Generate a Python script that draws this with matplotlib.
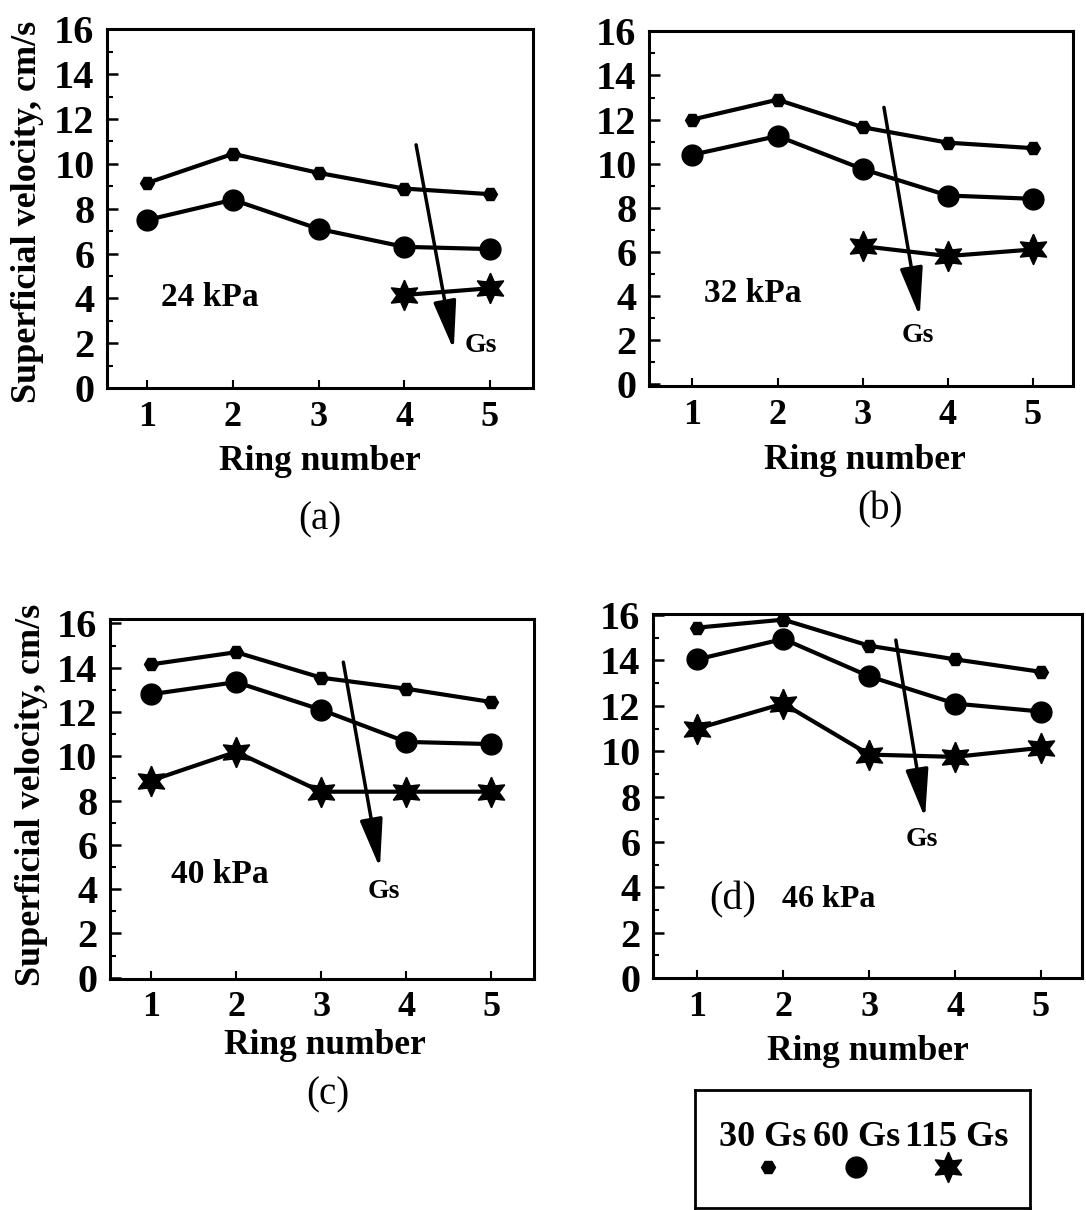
import matplotlib.pyplot as plt
from matplotlib.ticker import MultipleLocator

plt.rcParams["font.family"] = ["Liberation Serif", "DejaVu Serif"]
plt.rcParams["font.weight"] = "bold"

# Data
rings = [1, 2, 3, 4, 5]

a_30 = [9.15, 10.45, 9.6, 8.9, 8.65]
a_60 = [7.5, 8.4, 7.1, 6.3, 6.2]
a_115_rings = [4, 5]
a_115 = [4.15, 4.45]

b_30 = [12.0, 12.9, 11.65, 10.95, 10.7]
b_60 = [10.4, 11.25, 9.75, 8.55, 8.4]
b_115_rings = [3, 4, 5]
b_115 = [6.25, 5.8, 6.1]

c_30 = [14.15, 14.7, 13.55, 13.05, 12.45]
c_60 = [12.8, 13.35, 12.1, 10.65, 10.55]
c_115_rings = [1, 2, 3, 4, 5]
c_115 = [8.9, 10.2, 8.4, 8.4, 8.4]

d_30 = [15.45, 15.8, 14.65, 14.05, 13.5]
d_60 = [14.05, 14.95, 13.3, 12.1, 11.75]
d_115_rings = [1, 2, 3, 4, 5]
d_115 = [11.0, 12.1, 9.85, 9.75, 10.15]

pressures = ["24 kPa", "32 kPa", "40 kPa", "46 kPa"]
series_labels = ["30 Gs", "60 Gs", "115 Gs"]

STAR = (6, 1, 0)
M30 = dict(marker="H", markersize=10)
M60 = dict(marker="o", markersize=15)
M115 = dict(marker=STAR, markersize=22)

W, H = 1086, 1210
fig = plt.figure(figsize=(W / 100, H / 100), dpi=100)


def px_axes(left, top, right, bottom):
    return fig.add_axes([left / W, 1 - bottom / H, (right - left) / W, (bottom - top) / H])


def style_axes(ax, xlim, ylim):
    ax.set_xlim(*xlim)
    ax.set_ylim(*ylim)
    for s in ax.spines.values():
        s.set_linewidth(2.2)
    ax.set_xticks(rings)
    ax.set_yticks(range(0, 17, 2))
    ax.yaxis.set_minor_locator(MultipleLocator(1))
    ax.tick_params(axis="y", which="major", direction="in", length=8, width=1.8,
                   labelsize=29, pad=9)
    ax.tick_params(axis="y", which="minor", direction="in", length=4, width=1.5)
    ax.tick_params(axis="x", which="major", direction="in", length=6, width=1.5,
                   labelsize=26, pad=9)
    for lab in ax.get_xticklabels() + ax.get_yticklabels():
        lab.set_fontweight("bold")


def draw_series(ax, y30, y60, r115, y115):
    kw = dict(color="black", lw=3, clip_on=False, zorder=3)
    ax.plot(rings, y30, **M30, **kw)
    ax.plot(rings, y60, **M60, **kw)
    ax.plot(r115, y115, **M115, **kw)


def gs_arrow(ax, start, end, text_xy):
    ax.annotate("", xy=end, xytext=start,
                arrowprops=dict(arrowstyle="-|>,head_length=1.5,head_width=0.35",
                                mutation_scale=20, lw=2.5, color="black",
                                shrinkA=0, shrinkB=0), zorder=4)
    ax.text(*text_xy, "Gs", fontsize=20, fontweight="bold", ha="center", va="center")


# (a)
ax_a = px_axes(107, 29, 533, 388)
style_axes(ax_a, (0.528, 5.506), (0, 16.02))
draw_series(ax_a, a_30, a_60, a_115_rings, a_115)
gs_arrow(ax_a, (4.14, 10.85), (4.58, 1.7), (4.9, 1.9))
ax_a.text(1.73, 4.05, pressures[0], fontsize=24, fontweight="bold", ha="center", va="center")

# (b)
ax_b = px_axes(649, 31, 1073, 386)
style_axes(ax_b, (0.491, 5.47), (-0.1, 16.02))
draw_series(ax_b, b_30, b_60, b_115_rings, b_115)
gs_arrow(ax_b, (3.25, 12.55), (3.67, 3.05), (3.65, 2.2))
ax_b.text(1.71, 4.1, pressures[1], fontsize=24, fontweight="bold", ha="center", va="center")

# (c)
ax_c = px_axes(110, 619, 534, 979)
style_axes(ax_c, (0.519, 5.5), (-0.06, 16.2))
draw_series(ax_c, c_30, c_60, c_115_rings, c_115)
gs_arrow(ax_c, (3.26, 14.25), (3.69, 4.95), (3.73, 3.9))
ax_c.text(1.81, 4.65, pressures[2], fontsize=24, fontweight="bold", ha="center", va="center")

# (d)
ax_d = px_axes(653, 614, 1082, 978)
style_axes(ax_d, (0.482, 5.478), (0, 16.05))
draw_series(ax_d, d_30, d_60, d_115_rings, d_115)
gs_arrow(ax_d, (3.31, 14.9), (3.65, 7.05), (3.61, 6.1))
ax_d.text(1.14, 3.45, "(d)", fontsize=29, fontweight="normal", ha="left", va="center")
ax_d.text(1.98, 3.45, pressures[3], fontsize=23, fontweight="bold", ha="left", va="center")

# Axis labels and panel letters
for ax, (cx, cy) in [(ax_a, (320, 462)), (ax_b, (865, 460)), (ax_c, (325, 1046)), (ax_d, (868, 1052))]:
    fig.text(cx / W, 1 - cy / H, "Ring number", fontsize=25.5, fontweight="bold",
             ha="center", va="center")
for letter, (cx, cy) in [("(a)", (320, 520)), ("(b)", (880, 510)), ("(c)", (328, 1095))]:
    fig.text(cx / W, 1 - cy / H, letter, fontsize=28, fontweight="normal",
             ha="center", va="center")
for cx, cy in [(28, 212), (32, 795)]:
    fig.text(cx / W, 1 - cy / H, "Superficial velocity, cm/s", fontsize=26,
             fontweight="bold", rotation=90, ha="center", va="center")

# Legend box
ax_leg = px_axes(695, 1090, 1030, 1208)
ax_leg.set_xlim(695, 1030)
ax_leg.set_ylim(1208, 1090)
ax_leg.set_xticks([])
ax_leg.set_yticks([])
for s in ax_leg.spines.values():
    s.set_linewidth(2)
leg_x_text = [763, 857, 957]
leg_x_mark = [768, 856, 948]
for label, tx, mx, mk in zip(series_labels, leg_x_text, leg_x_mark, [M30, M60, M115]):
    ax_leg.text(tx, 1137, label, fontsize=26, fontweight="bold", ha="center", va="center")
    ax_leg.plot([mx], [1167], color="black", ls="none", **mk)

fig.savefig("out.png", dpi=100)
